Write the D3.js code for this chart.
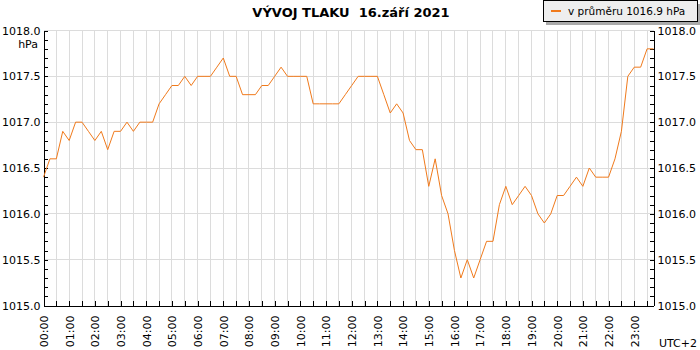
<!DOCTYPE html>
<html>
<head>
<meta charset="utf-8">
<script src="https://cdn.jsdelivr.net/npm/d3@7"></script>
<style>
  body { margin: 0; background: #fff; }
  text { font-family: "DejaVu Sans", sans-serif; white-space: pre; }
</style>
</head>
<body>
<script>
// tlak po 15 minutach od 00:00
var pressure = [
  1016.4, 1016.6, 1016.6, 1016.9, 1016.8, 1017.0, 1017.0, 1016.9,
  1016.8, 1016.9, 1016.7, 1016.9, 1016.9, 1017.0, 1016.9, 1017.0,
  1017.0, 1017.0, 1017.2, 1017.3, 1017.4, 1017.4, 1017.5, 1017.4,
  1017.5, 1017.5, 1017.5, 1017.6, 1017.7, 1017.5, 1017.5, 1017.3,
  1017.3, 1017.3, 1017.4, 1017.4, 1017.5, 1017.6, 1017.5, 1017.5,
  1017.5, 1017.5, 1017.2, 1017.2, 1017.2, 1017.2, 1017.2, 1017.3,
  1017.4, 1017.5, 1017.5, 1017.5, 1017.5, 1017.3, 1017.1, 1017.2,
  1017.1, 1016.8, 1016.7, 1016.7, 1016.3, 1016.6, 1016.2, 1016.0,
  1015.6, 1015.3, 1015.5, 1015.3, 1015.5, 1015.7, 1015.7, 1016.1,
  1016.3, 1016.1, 1016.2, 1016.3, 1016.2, 1016.0, 1015.9, 1016.0,
  1016.2, 1016.2, 1016.3, 1016.4, 1016.3, 1016.5, 1016.4, 1016.4,
  1016.4, 1016.6, 1016.9, 1017.5, 1017.6, 1017.6, 1017.8, 1017.8
];
var stepMinutes = 15;
var hourLabels = ["00:00","01:00","02:00","03:00","04:00","05:00","06:00","07:00",
  "08:00","09:00","10:00","11:00","12:00","13:00","14:00","15:00",
  "16:00","17:00","18:00","19:00","20:00","21:00","22:00","23:00"];
var yLabels = [1015.0, 1015.5, 1016.0, 1016.5, 1017.0, 1017.5, 1018.0];
var title = "VÝVOJ TLAKU  16.září 2021";
var legendText = "v průměru 1016.9 hPa";

var w = 700, h = 350;
var mLeft = 43.5, mRight = 653.5, mTop = 30.5, mBottom = 305.5;
var lineColor = "#f07a1c";

var svg = d3.select("body").append("svg")
    .attr("width", w)
    .attr("height", h);

var lastHour = (pressure.length - 1) * stepMinutes / 60;
var x = d3.scaleLinear().domain([0, lastHour]).range([mLeft, mRight]);
var y = d3.scaleLinear().domain([1015, 1018]).range([mBottom, mTop]);

var halfHours = d3.range(0, 48).map(function(i) { return i / 2; });
var minorY = d3.range(0, 31).map(function(i) { return 1015 + i / 10; });

// mrizka
svg.append("g").selectAll("line")
    .data(halfHours.slice(1))
    .enter().append("line")
    .attr("x1", function(d) { return x(d); })
    .attr("x2", function(d) { return x(d); })
    .attr("y1", mTop).attr("y2", mBottom)
    .attr("stroke", "#dcdcdc")
    .attr("shape-rendering", "crispEdges");

svg.append("g").selectAll("line")
    .data(yLabels.slice(1))
    .enter().append("line")
    .attr("x1", mLeft).attr("x2", mRight)
    .attr("y1", function(d) { return y(d); })
    .attr("y2", function(d) { return y(d); })
    .attr("stroke", "#dcdcdc")
    .attr("shape-rendering", "crispEdges");

function isMajor(d) {
  return Math.abs(d * 2 - Math.round(d * 2)) < 1e-6;
}

var leftAxis = d3.axisLeft(y)
    .tickValues(minorY)
    .tickSizeInner(-4)
    .tickSizeOuter(0)
    .tickPadding(3)
    .tickFormat(function(d) { return isMajor(d) ? d.toFixed(1) : ""; });

var rightAxis = d3.axisRight(y)
    .tickValues(minorY)
    .tickSizeInner(-4)
    .tickSizeOuter(0)
    .tickPadding(4)
    .tickFormat(function(d) { return isMajor(d) ? d.toFixed(1) : ""; });

var bottomAxis = d3.axisBottom(x)
    .tickValues(halfHours)
    .tickSizeInner(-5)
    .tickSizeOuter(0)
    .tickFormat(function(d) { return d % 1 === 0 ? hourLabels[d] : ""; });

var gl = svg.append("g").attr("transform", "translate(" + mLeft + ",0)").call(leftAxis);
var gr = svg.append("g").attr("transform", "translate(" + mRight + ",0)").call(rightAxis);
var gb = svg.append("g").attr("transform", "translate(0," + mBottom + ")").call(bottomAxis);

[gl, gr, gb].forEach(function(g) {
  g.selectAll("path, line")
    .attr("stroke", "#000")
    .attr("shape-rendering", "crispEdges");
  g.selectAll("text")
    .attr("font-family", "DejaVu Sans, sans-serif")
    .attr("font-size", "11px")
    .attr("fill", "#000");
});

gl.selectAll("text").attr("x", -3);
gr.selectAll("text").attr("x", 4);
gb.selectAll("text")
    .attr("transform", "rotate(-90)")
    .attr("text-anchor", "end")
    .attr("x", -10)
    .attr("y", 0)
    .attr("dy", "0.35em");

// krivka
var line = d3.line()
    .x(function(d, i) { return x(i * stepMinutes / 60); })
    .y(function(d) { return y(d); });

svg.append("path")
    .datum(pressure)
    .attr("d", line)
    .attr("fill", "none")
    .attr("stroke", lineColor)
    .attr("stroke-width", 1);

// texty
svg.append("text")
    .attr("x", 351)
    .attr("y", 17)
    .attr("text-anchor", "middle")
    .attr("font-size", "13px")
    .attr("font-weight", "bold")
    .text(title);

svg.append("text")
    .attr("x", 38)
    .attr("y", 48)
    .attr("text-anchor", "end")
    .attr("font-size", "11px")
    .text("hPa");

svg.append("text")
    .attr("x", 697)
    .attr("y", 347)
    .attr("text-anchor", "end")
    .attr("font-size", "11px")
    .text("UTC+2");

// legenda
var lg = svg.append("g");
lg.append("rect")
    .attr("x", 546).attr("y", 4)
    .attr("width", 154).attr("height", 21)
    .attr("fill", "#aaa");
lg.append("rect")
    .attr("x", 543.5).attr("y", 0.5)
    .attr("width", 154).attr("height", 21)
    .attr("fill", "#eeeeee")
    .attr("stroke", "#000")
    .attr("shape-rendering", "crispEdges");
lg.append("line")
    .attr("x1", 551).attr("x2", 561)
    .attr("y1", 11).attr("y2", 11)
    .attr("stroke", lineColor)
    .attr("stroke-width", 2);
lg.append("text")
    .attr("x", 568)
    .attr("y", 15)
    .attr("font-family", "DejaVu Sans Mono, monospace")
    .attr("font-size", "10.5px")
    .text(legendText);
</script>
</body>
</html>
